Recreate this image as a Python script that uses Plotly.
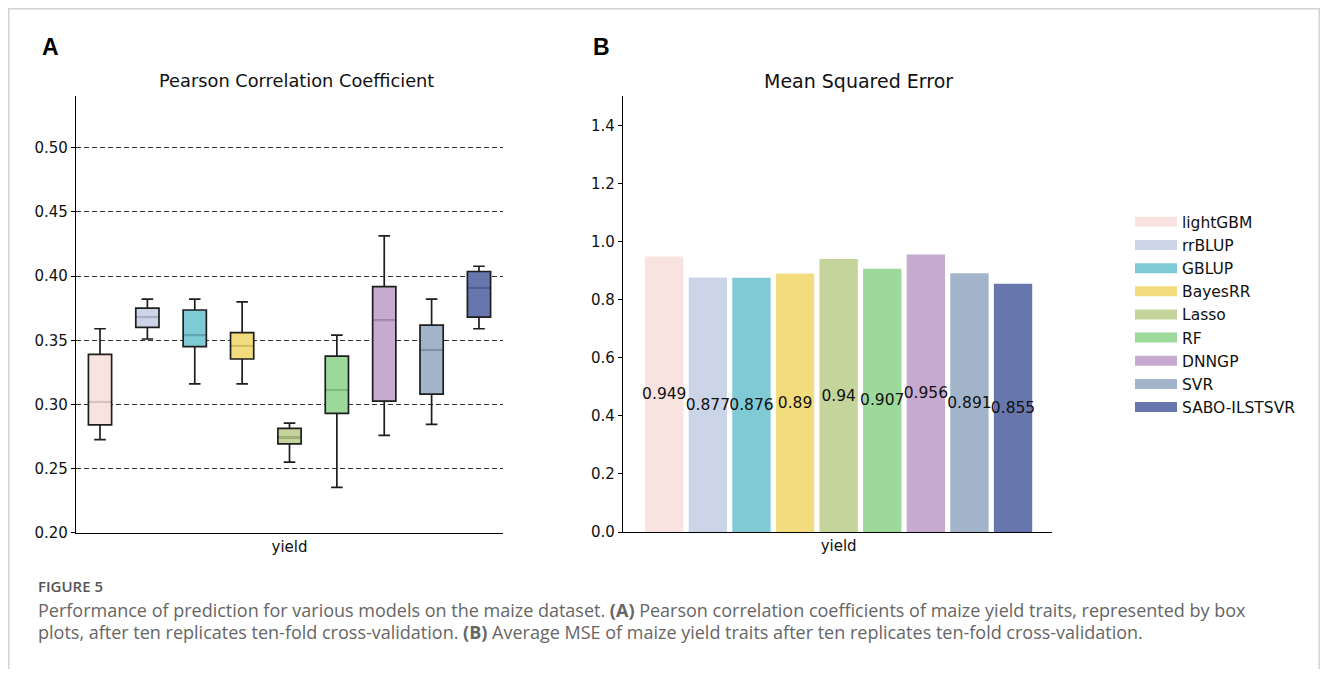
import plotly.graph_objects as go

models = ["lightGBM", "rrBLUP", "GBLUP", "BayesRR", "Lasso", "RF", "DNNGP", "SVR", "SABO-ILSTSVR"]
colors = ["#f8e3e1", "#cbd5e7", "#7ecad5", "#f2dc7d", "#c4d49a", "#9dd99b", "#c6aacf", "#a2b4c9", "#6776ad"]
median_colors = ["#d9c4c2", "#aab4c6", "#63a8b2", "#d2bd62", "#a5b47e", "#80ba7e", "#a88cb2", "#8596ab", "#525e92"]

# Pearson correlation box statistics
pcc_lower = [0.2726, 0.351, 0.316, 0.316, 0.2551, 0.2354, 0.2759, 0.2844, 0.359]
pcc_q1 = [0.284, 0.360, 0.345, 0.3354, 0.2692, 0.2931, 0.3026, 0.308, 0.368]
pcc_median = [0.302, 0.368, 0.354, 0.3456, 0.2744, 0.3113, 0.3656, 0.3426, 0.3908]
pcc_q3 = [0.339, 0.375, 0.3736, 0.356, 0.2813, 0.3377, 0.3918, 0.3618, 0.4036]
pcc_upper = [0.359, 0.382, 0.382, 0.380, 0.2854, 0.354, 0.4313, 0.382, 0.4077]

# Mean squared error
mse = [0.949, 0.877, 0.876, 0.89, 0.94, 0.907, 0.956, 0.891, 0.855]

category = "yield"
pcc_ticks = [0.20, 0.25, 0.30, 0.35, 0.40, 0.45, 0.50]
mse_ticks = [0.0, 0.2, 0.4, 0.6, 0.8, 1.0, 1.2, 1.4]

FONT = "DejaVu Sans"
PAGE_W, PAGE_H = 1328, 677
OX, OY = 8, 8  # default page body margin
W, H = PAGE_W - 2 * OX, PAGE_H - 2 * OY


def px(x):
    return (x - OX) / W


def py(y):
    return 1 - (y - OY) / H


pos = list(range(len(models)))
BOXW = 0.49
BARW = 0.88

fig = go.Figure()

for i, m in enumerate(models):
    fig.add_trace(go.Box(
        x=[pos[i]], q1=[pcc_q1[i]], median=[pcc_median[i]], q3=[pcc_q3[i]],
        lowerfence=[pcc_lower[i]], upperfence=[pcc_upper[i]],
        width=BOXW, whiskerwidth=0.5, fillcolor=colors[i],
        line=dict(color="#1e1e1e", width=1.7), boxpoints=False,
        showlegend=False, hoverinfo="skip", xaxis="x", yaxis="y"))
    fig.add_trace(go.Scatter(
        x=[pos[i] - BOXW / 2 + 0.02, pos[i] + BOXW / 2 - 0.02],
        y=[pcc_median[i], pcc_median[i]], mode="lines",
        line=dict(color=median_colors[i], width=2.2),
        showlegend=False, hoverinfo="skip", xaxis="x", yaxis="y"))

fig.add_trace(go.Bar(
    x=pos, y=mse, width=BARW, marker=dict(color=colors, line=dict(width=0)),
    text=[str(v) for v in mse], textposition="inside", insidetextanchor="middle",
    constraintext="none", textangle=0,
    textfont=dict(family=FONT, size=15.5, color="#111111"),
    showlegend=False, xaxis="x2", yaxis="y2"))

for i, m in enumerate(models):
    fig.add_trace(go.Scatter(
        x=[None], y=[None], mode="lines", name=m,
        line=dict(color=colors[i], width=10),
        xaxis="x2", yaxis="y2"))

axis_common = dict(showline=True, linecolor="black", linewidth=1.3,
                   tickfont=dict(family=FONT, size=15, color="#111111"),
                   zeroline=False)

fig.update_layout(
    width=W, height=H, margin=dict(l=0, r=0, t=0, b=0),
    paper_bgcolor="white", plot_bgcolor="white",
    boxmode="overlay", barmode="overlay",
    font=dict(family=FONT, color="#111111"),
    xaxis=dict(domain=[px(76), px(503)], range=[-0.507, 8.507],
               tickvals=[(pos[0] + pos[-1]) / 2], ticktext=[category], ticks="",
               showgrid=False, anchor="y", **axis_common),
    yaxis=dict(domain=[py(540), py(97.7)], range=[0.20, 0.54],
               tickvals=pcc_ticks, tickformat=".2f", ticks="outside", ticklen=4,
               tickcolor="black", showgrid=True, gridcolor="#333333", gridwidth=1.1,
               griddash="5px,3px", anchor="x", **axis_common),
    xaxis2=dict(domain=[px(623), px(1052)], range=[-0.947, 8.894],
                tickvals=[(pos[0] + pos[-1]) / 2], ticktext=[category], ticks="",
                showgrid=False, anchor="y2", **axis_common),
    yaxis2=dict(domain=[py(539.3), py(97.7)], range=[0, 1.5],
                tickvals=mse_ticks, tickformat=".1f", ticks="outside", ticklen=4,
                tickcolor="black", showgrid=False, anchor="x2", **axis_common),
    legend=dict(x=px(1130), y=py(208), xanchor="left", yanchor="top",
                font=dict(family=FONT, size=15.5, color="#111111"),
                bgcolor="rgba(0,0,0,0)", itemwidth=42, tracegroupgap=0),
)

annotations = [
    dict(text="<b>A</b>", x=px(50), y=py(48), font=dict(family="Liberation Sans", size=23, color="black")),
    dict(text="<b>B</b>", x=px(601), y=py(48), font=dict(family="Liberation Sans", size=23, color="black")),
    dict(text="Pearson Correlation Coefficient", x=px(296), y=py(82), font=dict(family=FONT, size=17.8, color="#111111")),
    dict(text="Mean Squared Error", x=px(858), y=py(82), font=dict(family=FONT, size=19, color="#111111")),
]
for a in annotations:
    fig.add_annotation(xref="paper", yref="paper", showarrow=False, xanchor="center", yanchor="middle", **a)

caption = [
    ("FIGURE 5", 594, 15, "#555555", 600),
    ("Performance of prediction for various models on the maize dataset. <b>(A)</b> Pearson correlation coefficients of maize yield traits, represented by box", 618, 18, "#666666", 400),
    ("plots, after ten replicates ten-fold cross-validation. <b>(B)</b> Average MSE of maize yield traits after ten replicates ten-fold cross-validation.", 641, 18, "#666666", 400),
]
for txt, yy, sz, col, wt in caption:
    fig.add_annotation(xref="paper", yref="paper", showarrow=False, xanchor="left", yanchor="middle",
                       x=px(36), y=py(yy), text=txt,
                       font=dict(family="Open Sans", size=sz, color=col, weight=wt))

# light frame around the figure (open at the bottom)
fig.add_shape(type="path", xref="paper", yref="paper",
              path=f"M {px(8.8)},-0.1 L {px(8.8)},{py(8.8)} L {px(1319.2)},{py(8.8)} L {px(1319.2)},-0.1",
              line=dict(color="#d4d4d4", width=1.5), layer="below")

fig.write_html("out.html")
